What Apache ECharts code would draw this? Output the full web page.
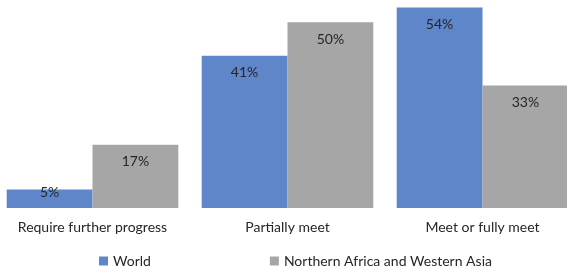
<!DOCTYPE html>
<html>
<head>
<meta charset="utf-8">
<script src="https://cdn.jsdelivr.net/npm/echarts@6/dist/echarts.min.js"></script>
<style>
  html, body { margin: 0; padding: 0; background: #fff; overflow: hidden; }
  /* plot runs a little past both window edges, like the original */
  #chart { width: 585px; height: 273px; margin-left: -5px; }
</style>
</head>
<body>
<div id="chart"></div>
<script>
const categories = ["Require further progress", "Partially meet", "Meet or fully meet"];
const seriesNames = ["World", "Northern Africa and Western Asia"];
const worldValues = [5, 41, 54];
const nawaValues = [17, 50, 33];

const FONT = "Lato";

const chart = echarts.init(document.getElementById("chart"));

function barSeries(name, values, color) {
  return {
    name: name,
    type: "bar",
    // short bars get their label pushed up to the bar top
    data: values.map((v) =>
      v < 10 ? { value: v, label: { distance: -4 } } : v
    ),
    barGap: "0%",
    barCategoryGap: "12%",
    itemStyle: { color: color },
    label: {
      show: true,
      position: "insideTop",
      distance: 10,
      formatter: "{c}%",
      color: "#262626",
      fontFamily: FONT,
      fontSize: 14,
    },
  };
}

chart.setOption({
  animation: false,
  grid: {
    left: 0,
    right: 0,
    top: 0,
    bottom: 65,
    containLabel: false,
  },
  xAxis: {
    type: "category",
    data: categories,
    axisLine: { show: false },
    axisTick: { show: false },
    axisLabel: {
      interval: 0,
      margin: 12,
      color: "#262626",
      fontFamily: FONT,
      fontSize: 14,
    },
  },
  yAxis: {
    type: "value",
    min: 0,
    max: 56,
    show: false,
    splitLine: { show: false },
  },
  legend: {
    data: seriesNames,
    left: 104,
    top: 254,
    padding: 0,
    itemWidth: 9,
    itemHeight: 9,
    itemGap: 119,
    icon: "rect",
    textStyle: {
      color: "#262626",
      fontFamily: FONT,
      fontSize: 14,
    },
  },
  series: [
    barSeries(seriesNames[0], worldValues, "#5f86c9"),
    barSeries(seriesNames[1], nawaValues, "#a6a6a6"),
  ],
});
</script>
</body>
</html>
